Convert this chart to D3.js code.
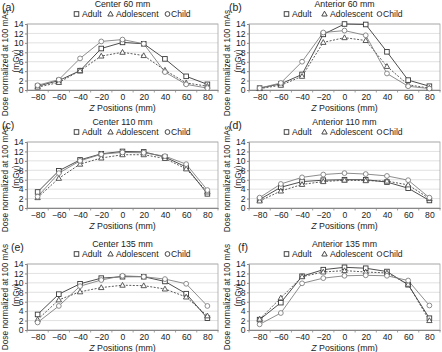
<!DOCTYPE html>
<html>
<head>
<meta charset="utf-8">
<script src="https://cdn.jsdelivr.net/npm/d3@7"></script>
<style>
  body { margin: 0; background: #fff; }
  svg { display: block; font-family: "Liberation Sans", Arial, sans-serif; }
</style>
</head>
<body>
<div id="chart"></div>
<script>
// z positions (mm) - category axis
const zPositions = [-80, -60, -40, -20, 0, 20, 40, 60, 80];
const yTicks = [0, 2, 4, 6, 8, 10, 12, 14];

const panelLabels = ["(a)", "(b)", "(c)", "(d)", "(e)", "(f)"];
const panelTitles = ["Center 60 mm", "Anterior 60 mm", "Center 110 mm", "Anterior 110 mm", "Center 135 mm", "Anterior 135 mm"];
const seriesNames = ["Adult", "Adolescent", "Child"];

// dose values (mGy), one array per panel and phantom
const adultA = [0.8, 2.0, 4.1, 8.8, 10.1, 9.8, 6.6, 2.9, 1.2];
const adolA  = [0.6, 1.6, 4.1, 7.2, 8.0, 7.3, 4.2, 1.5, 0.8];
const childA = [1.0, 2.2, 6.7, 10.3, 10.7, 9.8, 3.8, 1.2, 0.4];

const adultB = [0.4, 1.3, 3.3, 11.8, 14.0, 13.9, 8.1, 2.1, 0.8];
const adolB  = [0.3, 1.0, 2.9, 10.1, 11.1, 10.5, 5.0, 1.1, 0.4];
const childB = [0.4, 1.5, 6.0, 12.2, 12.6, 11.6, 3.5, 0.8, 0.3];

const adultC = [3.4, 7.9, 10.2, 11.5, 12.0, 11.9, 10.8, 8.7, 3.0];
const adolC  = [2.2, 6.3, 9.3, 10.6, 11.3, 11.3, 10.5, 8.3, 3.4];
const childC = [2.4, 7.4, 10.0, 11.4, 11.8, 11.7, 11.0, 9.3, 3.8];

const adultD = [1.8, 4.4, 5.6, 5.9, 6.0, 6.0, 5.5, 4.2, 1.6];
const adolD  = [1.5, 3.6, 5.0, 5.6, 5.9, 5.8, 5.7, 4.9, 2.0];
const childD = [2.2, 5.1, 6.5, 7.1, 7.4, 7.2, 6.8, 5.9, 2.2];

const adultE = [3.3, 7.6, 9.8, 11.0, 11.3, 11.3, 10.3, 7.7, 2.5];
const adolE  = [2.2, 6.4, 8.1, 9.0, 9.5, 9.4, 8.7, 7.0, 3.0];
const childE = [1.6, 5.1, 9.3, 10.6, 11.5, 11.3, 10.8, 9.8, 5.1];

const adultF = [2.2, 5.8, 11.4, 12.8, 13.3, 13.1, 12.4, 9.6, 2.5];
const adolF  = [2.3, 6.8, 11.3, 12.3, 12.6, 12.3, 12.1, 9.7, 2.0];
const childF = [1.2, 3.6, 9.9, 11.0, 11.5, 11.6, 11.5, 10.5, 5.2];

const panelData = [
  [adultA, adolA, childA],
  [adultB, adolB, childB],
  [adultC, adolC, childC],
  [adultD, adolD, childD],
  [adultE, adolE, childE],
  [adultF, adolF, childF]
];

const W = 442, H = 352;
const colLeft = [27, 249];
const rowTop = [0, 118, 240];
const plotW = 191;
const plotTopOff = 24, plotBotOff = 90;
const legendOffsets = [[-46, -12, 45], [-58, -20, 35]];
const yTitleShift = [6, 4, 0];
const labelShift = [0, 0, 9];

const styles = [
  { color: "#3a3a3a", dash: null, marker: "square" },
  { color: "#4a4a4a", dash: "2,1.5", marker: "triangle" },
  { color: "#808080", dash: null, marker: "circle" }
];

const svg = d3.select("#chart").append("svg")
  .attr("width", W)
  .attr("height", H);

function drawMarker(g, type, x, y, color) {
  if (type === "square") {
    g.append("rect")
      .attr("x", x - 2.3).attr("y", y - 2.3)
      .attr("width", 4.6).attr("height", 4.6)
      .attr("fill", "#fff").attr("stroke", color).attr("stroke-width", 0.9);
  } else if (type === "triangle") {
    g.append("path")
      .attr("d", `M${x},${y - 2.8}L${x + 2.7},${y + 2}L${x - 2.7},${y + 2}Z`)
      .attr("fill", "#fff").attr("stroke", color).attr("stroke-width", 0.9);
  } else {
    g.append("circle")
      .attr("cx", x).attr("cy", y).attr("r", 2.4)
      .attr("fill", "#fff").attr("stroke", color).attr("stroke-width", 0.9);
  }
}

panelData.forEach((series, i) => {
  const col = i % 2, row = Math.floor(i / 2);
  const left = colLeft[col];
  const top = rowTop[row] + plotTopOff;
  const bottom = rowTop[row] + plotBotOff;
  const cx = left + plotW / 2;

  const x = d3.scalePoint().domain(zPositions).range([left, left + plotW]).padding(0.5);
  const y = d3.scaleLinear().domain([0, 14]).range([bottom, top]);

  const g = svg.append("g");

  // gridlines
  g.selectAll(".grid").data(yTicks.slice(1)).join("line")
    .attr("x1", left).attr("x2", left + plotW)
    .attr("y1", d => y(d)).attr("y2", d => y(d))
    .attr("stroke", "#d9d9d9").attr("stroke-width", 0.8);

  // plot frame
  g.append("rect")
    .attr("x", left).attr("y", top)
    .attr("width", plotW).attr("height", bottom - top)
    .attr("fill", "none").attr("stroke", "#a6a6a6").attr("stroke-width", 0.8);

  // y axis
  const yAxis = g.append("g")
    .attr("transform", `translate(${left},0)`)
    .call(d3.axisLeft(y).tickValues(yTicks).tickSize(2).tickPadding(1.5));
  yAxis.select(".domain").attr("stroke", "#888");
  yAxis.selectAll(".tick line").attr("stroke", "#888");
  yAxis.selectAll("text").attr("font-size", 8.6).attr("fill", "#222");

  // x axis
  const xAxis = g.append("g")
    .attr("transform", `translate(0,${bottom})`)
    .call(d3.axisBottom(x).tickSize(0).tickPadding(4).tickFormat(d => d < 0 ? "\u2212" + Math.abs(d) : d));
  xAxis.select(".domain").attr("stroke", "#888");
  xAxis.selectAll("text").attr("font-size", 8.6).attr("fill", "#222");

  // category tick marks
  const step = x.step();
  g.selectAll(".ctick").data(d3.range(zPositions.length + 1)).join("line")
    .attr("x1", k => left + k * step).attr("x2", k => left + k * step)
    .attr("y1", bottom).attr("y2", bottom + 2.5)
    .attr("stroke", "#888").attr("stroke-width", 0.8);

  // x axis title
  const xt = g.append("text")
    .attr("x", cx).attr("y", rowTop[row] + 111)
    .attr("text-anchor", "middle").attr("font-size", 8.8).attr("fill", "#222");
  xt.append("tspan").attr("font-style", "italic").text("Z");
  xt.append("tspan").text(" Positions (mm)");

  // y axis title
  const ymid = (top + bottom) / 2 + yTitleShift[row];
  g.append("text")
    .attr("transform", `translate(${left - 19},${ymid}) rotate(-90)`)
    .attr("text-anchor", "middle").attr("font-size", 8.3).attr("fill", "#222")
    .text("Dose normalized at 100 mAs");
  g.append("text")
    .attr("transform", `translate(${left - 8.5},${ymid - 2}) rotate(-90)`)
    .attr("text-anchor", "middle").attr("font-size", 8.3).attr("fill", "#222")
    .text("(mGy)");

  // panel label
  g.append("text")
    .attr("x", left - (col === 0 ? 25 : 20) + labelShift[row]).attr("y", rowTop[row] + 11)
    .attr("font-size", 10.5).attr("fill", "#222")
    .text(panelLabels[i]);

  // title
  g.append("text")
    .attr("x", cx).attr("y", rowTop[row] + 7)
    .attr("text-anchor", "middle").attr("font-size", 8.8).attr("fill", "#222")
    .text(panelTitles[i]);

  // legend
  seriesNames.forEach((name, s) => {
    const mx = cx + legendOffsets[col][s];
    const my = rowTop[row] + 14;
    drawMarker(g, styles[s].marker, mx, my, "#333");
    g.append("text")
      .attr("x", mx + (s === 2 ? 3.5 : 5.5)).attr("y", my + 3.2)
      .attr("font-size", 8.6).attr("fill", "#222")
      .text(name);
  });

  // series lines and markers
  const line = d3.line()
    .x((d, k) => x(zPositions[k]))
    .y(d => y(d));

  series.forEach((vals, s) => {
    const path = g.append("path")
      .attr("d", line(vals))
      .attr("fill", "none")
      .attr("stroke", styles[s].color)
      .attr("stroke-width", 0.9);
    if (styles[s].dash) path.attr("stroke-dasharray", styles[s].dash);
  });
  series.forEach((vals, s) => {
    vals.forEach((v, k) => drawMarker(g, styles[s].marker, x(zPositions[k]), y(v), styles[s].color));
  });
});
</script>
</body>
</html>
